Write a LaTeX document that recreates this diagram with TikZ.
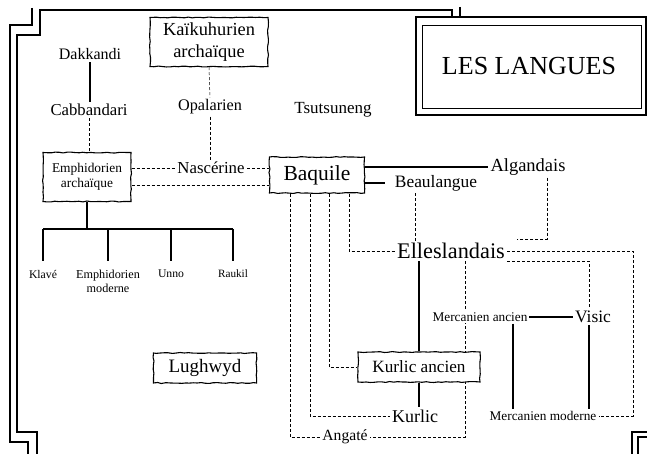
\documentclass[tikz,border=0pt]{standalone}
\usepackage{fontspec}
\setmainfont{Liberation Serif}
\usetikzlibrary{positioning,decorations.pathmorphing}
\pgfdeclarelayer{bg}
\pgfsetlayers{bg,main}
\newcommand{\fs}[1]{\fontsize{#1}{1.15\dimexpr#1pt\relax}\selectfont}
\tikzset{
  lang/.style={font=\fs{16.5},inner sep=2pt,fill=white},
  leaf/.style={font=\fs{11.7},align=center,inner sep=1pt,anchor=north},
  parch/.style={draw,line width=1.1pt,fill=white,align=center,inner sep=1pt,
    decorate,decoration={random steps,segment length=4pt,amplitude=0.5pt}},
  kin/.style={line width=1.5pt},
  link/.style={dash pattern=on 3pt off 2pt,line width=0.5pt},
  frame/.style={line width=1.2pt}
}
\begin{document}
\begin{tikzpicture}[x=1pt,y=-1pt]
  \useasboundingbox (0,0) rectangle (647,454);
  % frame
  \draw[frame] (32,8) -- (32,25) -- (10,25) -- (10,442) -- (28,442) -- (28,454);
  \draw[frame] (452,17) -- (452,10) -- (40,10) -- (40,35) -- (17,35) -- (17,432) -- (37,432) -- (37,454);
  \draw[frame] (460,7) -- (460,17);
  \draw[frame] (632,454) -- (632,432) -- (647,432);
  \draw[frame] (638,454) -- (638,437) -- (647,437);
  \draw[frame] (416,17) rectangle (646,115);
  \draw[line width=0.8pt] (422,25) rectangle (641,108);
  \node[font=\fs{26}] (title) at (529,66) {LES LANGUES};

  % langues
  \node[parch,font=\fs{18.4},minimum width=118pt,minimum height=49pt] (kaik) at (209,42) {Kaïkuhurien\\archaïque};
  \node[lang,font=\fs{16}] (dakk) at (90,54) {Dakkandi};
  \node[lang,font=\fs{16.7}] (cabb) at (89,110) {Cabbandari};
  \node[lang,font=\fs{16.2}] (opal) at (210,107) {Opalarien};
  \node[lang,font=\fs{17}] (tsut) at (333,110) {Tsutsuneng};
  \node[parch,font=\fs{13.4},minimum width=88pt,minimum height=49pt] (emph) at (87,177) {Emphidorien\\archaïque};
  \node[lang,font=\fs{16.8}] (nasc) at (211,168) {Nascérine};
  \node[parch,font=\fs{21.5},minimum width=95pt,minimum height=36pt] (baq) at (317,175) {Baquile};
  \node[lang,font=\fs{18.5}] (alg) at (528,167) {Algandais};
  \node[lang,font=\fs{17.4},inner xsep=6pt] (beau) at (436,183) {Beaulangue};
  \node[lang,font=\fs{22.3}] (ell) at (451,251) {Elleslandais};
  \node[lang,font=\fs{13.3}] (merca) at (480,317) {Mercanien ancien};
  \node[lang,font=\fs{17.5}] (visic) at (593,317) {Visic};
  \node[parch,font=\fs{17.2},minimum width=122pt,minimum height=30pt] (kurla) at (419,367) {Kurlic ancien};
  \node[lang,font=\fs{18}] (kurl) at (415,416) {Kurlic};
  \node[lang,font=\fs{13.3}] (merm) at (543,416) {Mercanien moderne};
  \node[lang,font=\fs{15.6}] (ang) at (345,437) {Angaté};
  \node[parch,font=\fs{19},minimum width=103pt,minimum height=30pt] (lugh) at (205,368) {Lughwyd};

  \node[leaf] (klave) at (43,269) {Klavé};
  \node[leaf,font=\fs{12.2}] (emod) at (108,269) {Emphidorien\\moderne};
  \node[leaf] (unno) at (171,269) {Unno};
  \node[leaf,font=\fs{11.2}] (rauk) at (233,269) {Raukil};

  \coordinate (bar) at (0,229);
  \coordinate (eastrun) at (633,0);

  \begin{pgfonlayer}{bg}
    % filiations
    \draw[kin] (dakk) -- (dakk |- cabb.north);
    \draw[kin] (emph.south) -- (emph.south |- bar);
    \draw[kin] (klave.north |- bar) -- (rauk.north |- bar);
    \foreach \n in {klave,emod,unno,rauk}
      \draw[kin] (\n.north |- bar) -- ([yshift=8pt]\n.north);
    \draw[kin] (baq.east |- alg.west) -- (alg.west);
    \draw[kin] (baq.east |- beau.west) -- ([xshift=-4pt]beau.west);
    \draw[kin] (kurla.north |- ell.south) -- (kurla.north);
    \draw[kin] (kurla.south) -- (kurla.south |- kurl.north);
    \draw[kin] ([xshift=-2pt]merca.east) -- ([xshift=2pt]merca.east -| visic.west);
    \draw[kin] ([xshift=33pt]merca.south) -- ([xshift=33pt]merca.south |- merm.north);
    \draw[kin] ([xshift=-4pt]visic.south) -- ([xshift=-4pt]visic.south |- merm.north);

    % influences
    \draw[link] (kaik.south) -- (opal.north);
    \draw[link] (opal.south) -- (opal.south |- nasc.north);
    \draw[link] (cabb.south) -- (cabb.south |- emph.north);
    \draw[link] (nasc.west -| emph.east) -- (nasc.west);
    \draw[link] (nasc.east) -- (nasc.east -| baq.west);
    \draw[link] ([yshift=-8pt]emph.east) -- ([yshift=-8pt]emph.east -| baq.west);
    \draw[link] ([xshift=-27pt]baq.south) |- (ang.west);
    \draw[link] ([xshift=-7pt]baq.south) |- (kurl.west);
    \draw[link] ([xshift=12pt]baq.south) |- (kurla.west);
    \draw[link] ([xshift=32pt]baq.south) |- (ell.west);
    \draw[link] ([xshift=-21pt]beau.south) -- ([xshift=-21pt]beau.south |- ell.north);
    \draw[link] ([xshift=19pt]alg.south) |- ([xshift=10pt,yshift=2pt]ell.north east);
    \draw[link] (ell.east) -| (eastrun |- merm.east) -- (merm.east);
    \draw[link] ([yshift=-10pt]ell.east) -| ([xshift=-4pt]visic.north);
    \draw[link] ([xshift=14pt]ell.south) |- (ang.east);
  \end{pgfonlayer}
\end{tikzpicture}
\end{document}
